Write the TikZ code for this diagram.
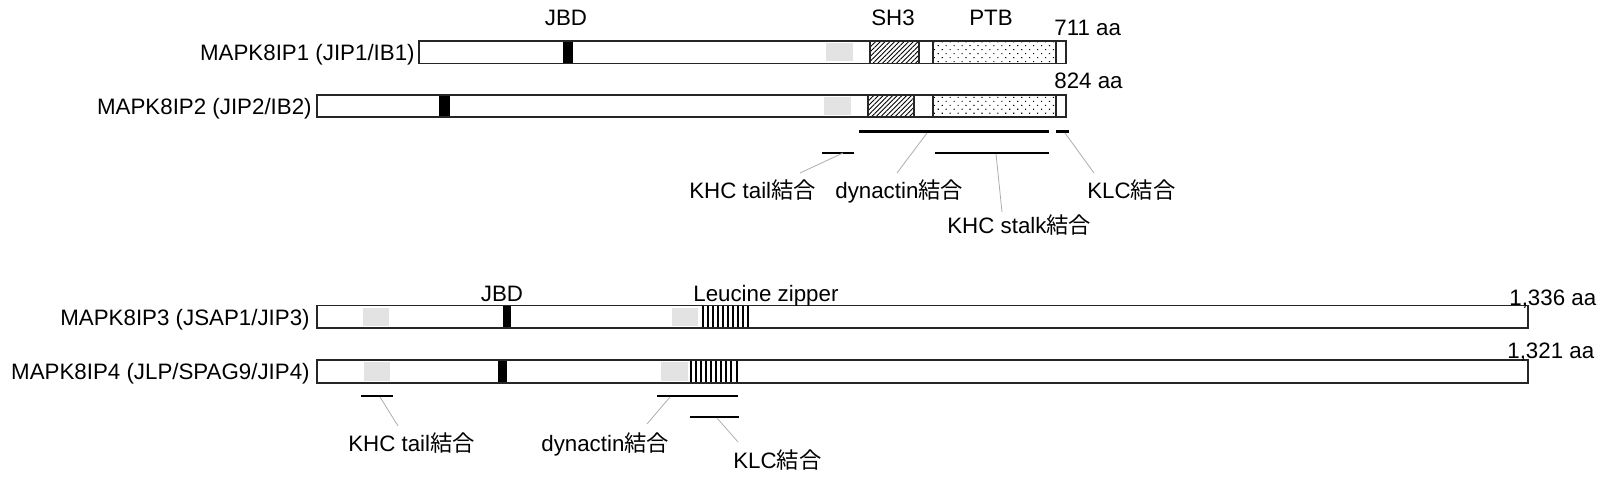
\documentclass[tikz,border=0pt]{standalone}
\usepackage{fontspec}
\setmainfont{Liberation Sans}
\newfontfamily\cjk{Noto Sans CJK JP}
\usetikzlibrary{patterns.meta}

\begin{document}
\begin{tikzpicture}[
    x=0.02cm, y=-0.02cm,
    txt/.style={inner sep=0pt, font=\fontsize{12.7}{15}\selectfont},
    bar/.style={draw=black!85, line width=0.95pt},
    jbd/.style={fill=black},
    shade/.style={fill=gray!22},
    sh3/.style={draw=black!85, line width=0.7pt, pattern={Lines[angle=45, distance=1.9pt, line width=0.5pt]}},
    ptb/.style={draw=black!85, line width=0.7pt, pattern={Dots[angle=45, distance=3.2pt, radius=0.45pt]}},
    zipper/.style={draw=black, line width=0.95pt},
    bind/.style={line width=1.7pt, line cap=butt},
    lead/.style={draw=gray!65, line width=0.45pt}
]
    \useasboundingbox (0,0) rectangle (1600,483);

    % Protein names
    \node[txt, anchor=base east] (ip1) at (415,60.5) {MAPK8IP1 (JIP1/IB1)};
    \node[txt, anchor=base east] (ip2) at (312,114) {MAPK8IP2 (JIP2/IB2)};
    \node[txt, anchor=base east] (ip3) at (310,325) {MAPK8IP3 (JSAP1/JIP3)};
    \node[txt, anchor=base east] (ip4) at (310,379.5) {MAPK8IP4 (JLP/SPAG9/JIP4)};

    % MAPK8IP1
    \fill[white] (419,41) rectangle (1066,63.5);
    \fill[jbd] (563,41) rectangle (573,63.5);
    \fill[shade] (826,43) rectangle (853,61.5);
    \draw[sh3] (870,41) rectangle (919,63.5);
    \draw[ptb] (933,41) rectangle (1056,63.5);
    \draw[bar] (419,41) rectangle (1066,63.5);

    % MAPK8IP2
    \fill[white] (317,95) rectangle (1066,117);
    \fill[jbd] (439,95) rectangle (450,117);
    \fill[shade] (824,97) rectangle (851,115);
    \draw[sh3] (868,95) rectangle (914,117);
    \draw[ptb] (933,95) rectangle (1056,117);
    \draw[bar] (317,95) rectangle (1066,117);

    % MAPK8IP3
    \fill[white] (317,305.5) rectangle (1528,328);
    \fill[shade] (363,307.5) rectangle (389,326);
    \fill[jbd] (503,305.5) rectangle (511,328);
    \fill[shade] (672,307.5) rectangle (698,326);
    \draw[zipper] (703,305.5) rectangle (748,328);
    \foreach \x in {708,713,...,743}
        \draw[zipper] (\x,305.5) -- (\x,328);
    \draw[bar] (317,305.5) rectangle (1528,328);

    % MAPK8IP4
    \fill[white] (317,360) rectangle (1528,383);
    \fill[shade] (364,362) rectangle (390,381);
    \fill[jbd] (498,360) rectangle (507,383);
    \fill[shade] (661,362) rectangle (688,381);
    \draw[zipper] (691,360) rectangle (737,383);
    \foreach \x in {696,701,...,731}
        \draw[zipper] (\x,360) -- (\x,383);
    \draw[bar] (317,360) rectangle (1528,383);

    % Domain names and lengths
    \node[txt, anchor=base] (jbdA) at (566,26) {JBD};
    \node[txt, anchor=base] (sh3lbl) at (893,26) {SH3};
    \node[txt, anchor=base] (ptblbl) at (991,26) {PTB};
    \node[txt, anchor=base west] (len1) at (1054,36) {711 aa};
    \node[txt, anchor=base west] (len2) at (1054,89) {824 aa};
    \node[txt, anchor=base] (jbdB) at (502,301) {JBD};
    \node[txt, anchor=base west] (zip) at (693,301) {Leucine zipper};
    \node[txt, anchor=base west] (len3) at (1509,305) {1,336 aa};
    \node[txt, anchor=base west] (len4) at (1507,358) {1,321 aa};

    % Binding regions (JIP1/JIP2)
    \draw[bind] (859,131.5) -- (1049,131.5);
    \draw[bind] (1056,131.5) -- (1069,131.5);
    \draw[bind] (822,153) -- (854,153);
    \draw[bind] (935,153) -- (1049,153);

    \node[txt, anchor=base west] (khctailA) at (689,198) {KHC tail{\cjk 結合}};
    \node[txt, anchor=base west] (dynA) at (835,198) {dynactin{\cjk 結合}};
    \node[txt, anchor=base west] (klcA) at (1087,198) {KLC{\cjk 結合}};
    \node[txt, anchor=base west] (stalkA) at (947,234) {KHC stalk{\cjk 結合}};

    \coordinate (khctailA-s) at (843,153);
    \coordinate (khctailA-e) at (800,173);
    \coordinate (dynA-s) at (927,133);
    \coordinate (dynA-e) at (897,173);
    \coordinate (stalkA-s) at (996,154);
    \coordinate (stalkA-e) at (1002,212);
    \coordinate (klcA-s) at (1065,133);
    \coordinate (klcA-e) at (1094,173);
    \draw[lead] (khctailA-s) -- (khctailA-e);
    \draw[lead] (dynA-s) -- (dynA-e);
    \draw[lead] (stalkA-s) -- (stalkA-e);
    \draw[lead] (klcA-s) -- (klcA-e);

    % Binding regions (JIP3/JIP4)
    \draw[bind] (361,396) -- (393,396);
    \draw[bind] (657,396) -- (738,396);
    \draw[bind] (690,417) -- (739,417);

    \node[txt, anchor=base west] (khctailB) at (348,451) {KHC tail{\cjk 結合}};
    \node[txt, anchor=base west] (dynB) at (541,451) {dynactin{\cjk 結合}};
    \node[txt, anchor=base west] (klcB) at (733,468) {KLC{\cjk 結合}};

    \coordinate (khctailB-s) at (380,397);
    \coordinate (khctailB-e) at (398,426);
    \coordinate (dynB-s) at (670,397);
    \coordinate (dynB-e) at (647,424);
    \coordinate (klcB-s) at (717,418);
    \coordinate (klcB-e) at (738,442);
    \draw[lead] (khctailB-s) -- (khctailB-e);
    \draw[lead] (dynB-s) -- (dynB-e);
    \draw[lead] (klcB-s) -- (klcB-e);
\end{tikzpicture}
\end{document}
